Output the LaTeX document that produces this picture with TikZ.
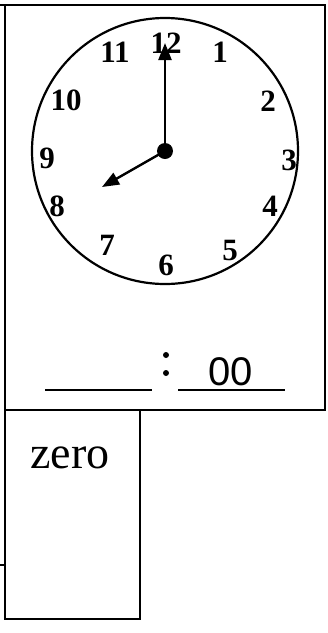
\documentclass[tikz,border=0pt]{standalone}
\usepackage{fontspec}
\setmainfont{Liberation Serif}
\newfontfamily\digitfont{Liberation Sans}
\usetikzlibrary{arrows.meta,positioning}

\begin{document}
\begin{tikzpicture}[
    x=1pt, y=-1pt,
    frame/.style={line width=2.4pt, line cap=rect},
    hour/.style={font=\bfseries\fontsize{31}{31}\selectfont, inner sep=0pt},
    hand/.style={line width=2.4pt, -{Triangle[length=17pt,width=13pt]}},
    blank/.style={line width=2.4pt}
]
\useasboundingbox (0,0) rectangle (328,633);

% boxes
\draw [frame] (0,5) -- (325,5) -- (325,410) -- (5,410) -- (5,5);
\draw [frame] (5,410) rectangle (140,619);
\draw [frame] (0,565) -- (5,565);

% clock face
\coordinate (ctr) at (165,151);
\draw [line width=2.2pt] (ctr) circle (133);

% numbers
\foreach \n/\px/\py in {12/166/43, 1/220/52, 2/268/101, 3/289/160, 4/270/206,
    5/230/250, 6/166/265, 7/107/245, 8/57/206, 9/47/158, 10/66/100, 11/115/52}
    \node [hour] (h\n) at (\px,\py) {\n};

% hands
\coordinate (mintip) at (165,43);
\coordinate (hourtip) at (102,187);
\draw [hand] (ctr) -- (mintip);
\draw [hand] (ctr) -- (hourtip);
\fill (ctr) circle (8);

% time line
\coordinate (l1) at (45,390);
\coordinate (l2) at (152,390);
\coordinate (r1) at (178,390);
\coordinate (r2) at (285,390);
\draw [blank] (l1) -- (l2);
\draw [blank] (r1) -- (r2);
\fill (166,355) circle (3);
\fill (166,373) circle (3);
\node [font=\digitfont\fontsize{40}{40}\selectfont, anchor=base] (mins) at (231,385) {00};

% word
\node [font=\fontsize{46}{46}\selectfont, anchor=base] (word) at (70,468) {zero};

\end{tikzpicture}
\end{document}
